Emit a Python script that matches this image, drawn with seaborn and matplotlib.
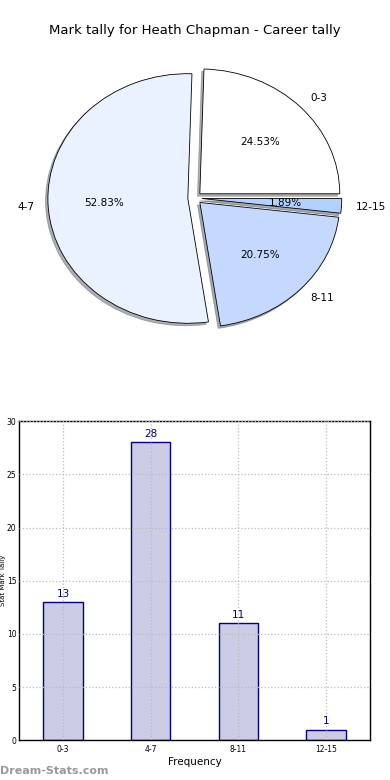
# Mark tally for Heath Chapman - pie + bar

import pandas as pd
import matplotlib
matplotlib.use("Agg")
import matplotlib.pyplot as plt
import seaborn as sns

categories = ["0-3", "4-7", "8-11", "12-15"]
tally = [13, 28, 11, 1]
pie_colors = ["#ffffff", "#eaf1ff", "#c5d9ff", "#b3d1ff"]

df = pd.DataFrame({"Range": categories, "Tally": tally})

sns.set_style("white")
plt.rcParams["font.family"] = ["DejaVu Sans"]
plt.rcParams["text.color"] = "black"
plt.rcParams["xtick.color"] = "black"
plt.rcParams["ytick.color"] = "black"
plt.rcParams["axes.labelcolor"] = "black"

fig = plt.figure(figsize=(3.9, 7.8), dpi=100)

# Pie chart
ax1 = fig.add_axes([0.051, 0.546, 0.897, 0.4])
ax1.pie(df["Tally"], labels=df["Range"], colors=pie_colors,
        explode=[0.05] * len(tally),
        shadow={"ox": -0.012, "oy": -0.014, "shade": 0.6},
        autopct="%1.2f%%", startangle=0,
        wedgeprops={"edgecolor": "black", "linewidth": 0.6},
        textprops={"fontsize": 7.5, "color": "black"})
ax1.set_aspect("auto")
fig.text(0.5, 0.961, "Mark tally for Heath Chapman - Career tally",
         ha="center", va="center", fontsize=9.5)

# Bar chart
ax2 = fig.add_axes([0.049, 0.051, 0.9, 0.409])
sns.barplot(data=df, x="Range", y="Tally", ax=ax2, color="#ccccE6",
            saturation=1, width=0.45, edgecolor="navy", linewidth=1)
ax2.set_xlim(-0.5, 3.5)
ax2.set_ylim(0, 30)
ax2.set_yticks(range(0, 31, 5))
for i, v in enumerate(tally):
    ax2.text(i, v + 0.3, str(v), ha="center", va="bottom", color="navy", fontsize=7.5)
ax2.grid(True, linestyle=":", color="#bbbbbb", linewidth=0.9)
ax2.set_axisbelow(False)
for s in ax2.spines.values():
    s.set_visible(True)
    s.set_color("black")
    s.set_linewidth(1)
ax2.tick_params(labelsize=5.5, length=3, direction="in", color="#888888")
ax2.tick_params(axis="y", pad=2)
ax2.set_xlabel("Frequency", fontsize=7.5, labelpad=2)
ax2.set_ylabel("Stat Mark Tally", fontsize=5)
ax2.yaxis.set_label_coords(-0.037, 0.5)

fig.text(0.0, 0.012, "Dream-Stats.com", color="#999999", fontsize=8,
         fontweight="bold", ha="left", va="center")

fig.savefig("out.png", dpi=100)
